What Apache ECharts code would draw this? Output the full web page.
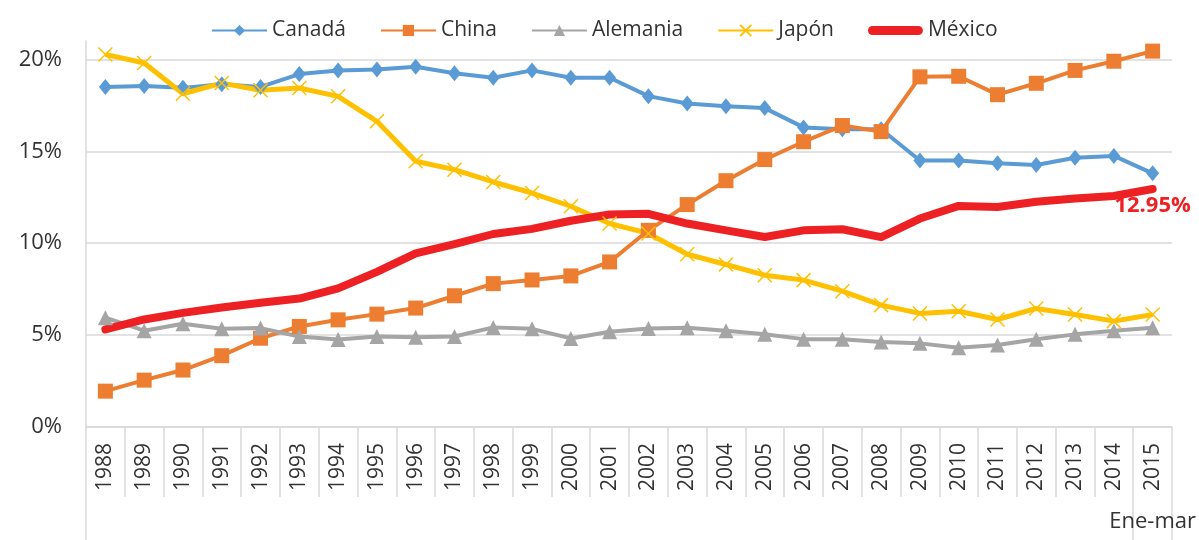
<!DOCTYPE html>
<html>
<head>
<meta charset="utf-8">
<script src="https://cdn.jsdelivr.net/npm/echarts@6/dist/echarts.min.js"></script>
<style>
  html, body { margin: 0; padding: 0; background: #fff; }
  #chart { width: 1199px; height: 540px; }
</style>
</head>
<body>
<div id="chart"></div>
<script>
  // años (2015 = enero-marzo)
  const years = ['1988', '1989', '1990', '1991', '1992', '1993', '1994', '1995', '1996', '1997',
    '1998', '1999', '2000', '2001', '2002', '2003', '2004', '2005', '2006', '2007',
    '2008', '2009', '2010', '2011', '2012', '2013', '2014', '2015'];
  const yTicks = [0, 5, 10, 15, 20];

  // participación (%) por país
  const canada = [18.5, 18.55, 18.45, 18.65, 18.5, 19.2, 19.4, 19.45, 19.6, 19.25,
    19.0, 19.4, 19.0, 19.0, 18.0, 17.6, 17.45, 17.35, 16.3, 16.2,
    16.2, 14.5, 14.5, 14.35, 14.25, 14.65, 14.75, 13.8];
  const china = [1.95, 2.55, 3.1, 3.88, 4.83, 5.47, 5.83, 6.14, 6.47, 7.14,
    7.8, 8.0, 8.22, 8.98, 10.7, 12.1, 13.4, 14.55, 15.52, 16.4,
    16.07, 19.05, 19.08, 18.08, 18.7, 19.4, 19.9, 20.45];
  const alemania = [5.95, 5.24, 5.62, 5.35, 5.38, 4.92, 4.76, 4.92, 4.88, 4.92,
    5.42, 5.34, 4.82, 5.18, 5.36, 5.4, 5.24, 5.05, 4.78, 4.78,
    4.62, 4.55, 4.31, 4.46, 4.77, 5.04, 5.24, 5.4];
  const japon = [20.27, 19.8, 18.13, 18.71, 18.32, 18.44, 17.99, 16.63, 14.46, 14.0,
    13.33, 12.73, 12.01, 11.07, 10.53, 9.4, 8.84, 8.26, 7.99, 7.39,
    6.63, 6.18, 6.3, 5.85, 6.45, 6.12, 5.76, 6.12];
  const mexico = [5.31, 5.85, 6.21, 6.5, 6.76, 6.99, 7.54, 8.44, 9.44, 9.95,
    10.5, 10.78, 11.22, 11.56, 11.6, 11.07, 10.7, 10.34, 10.7, 10.76,
    10.33, 11.34, 12.03, 11.97, 12.25, 12.43, 12.57, 12.95];

  // segundo nivel del eje: límites de grupo y etiqueta "Ene-mar"
  const groupEdges = [0, 27, 28];
  const groupLabelPos = [27.5];

  const font = 'Open Sans';
  const gridColor = '#d9d9d9';
  const textColor = '#333';

  const chart = echarts.init(document.getElementById('chart'));

  function lineSeries(name, data, color, width, symbol, size) {
    return {
      name: name,
      type: 'line',
      data: data,
      clip: false,
      symbol: symbol,
      symbolSize: size,
      lineStyle: { color: color, width: width },
      itemStyle: { color: color, borderColor: color, borderWidth: symbol.indexOf('path://') === 0 ? 1.5 : 0 },
      emphasis: { disabled: true }
    };
  }

  const last = years.length - 1;
  // México: línea gruesa sin marcadores, etiqueta solo en el último punto
  const mexSeries = lineSeries('México', mexico, '#ED2024', 8, 'circle', 1);
  mexSeries.lineStyle.cap = 'round';
  mexSeries.lineStyle.join = 'round';
  mexSeries.label = {
    show: true,
    position: 'bottom',
    distance: 5,
    color: '#ED2024',
    fontFamily: font,
    fontWeight: 'bold',
    fontSize: 22,
    formatter: function (p) { return p.dataIndex === last ? p.value.toFixed(2) + '%' : ''; }
  };

  chart.setOption({
    animation: false,
    textStyle: { fontFamily: font },
    legend: {
      top: 15,
      left: 206,
      itemWidth: 55,
      itemHeight: 14,
      itemGap: 34,
      textStyle: { fontSize: 21, color: textColor, fontFamily: font },
      data: ['Canadá', 'China', 'Alemania', 'Japón',
        { name: 'México', icon: 'path://M5,0L55,0A5,5,0,0,1,55,10L5,10A5,5,0,0,1,5,0Z' }]
    },
    grid: { left: 86, right: 25, top: 41, bottom: 113 },
    xAxis: [
      {
        type: 'category',
        data: years,
        boundaryGap: true,
        axisLine: { lineStyle: { color: gridColor, width: 1.5 } },
        axisTick: { show: true, interval: 0, length: 70, lineStyle: { color: gridColor, width: 1.5 } },
        axisLabel: { interval: 0, rotate: 90, margin: 16, fontSize: 21, color: textColor, fontFamily: font },
        splitLine: { show: false }
      },
      {
        type: 'value',
        position: 'bottom',
        offset: 70,
        min: 0,
        max: years.length,
        axisLine: { show: false },
        axisTick: { show: true, length: 43, customValues: groupEdges, lineStyle: { color: gridColor, width: 1.5 } },
        axisLabel: {
          customValues: groupLabelPos,
          margin: 14,
          fontSize: 22,
          color: textColor,
          fontFamily: font,
          formatter: function () { return 'Ene-mar'; }
        },
        splitLine: { show: false }
      }
    ],
    yAxis: {
      type: 'value',
      min: 0,
      max: 21,
      axisLine: { show: true, lineStyle: { color: gridColor, width: 1.5 } },
      axisTick: { show: false, customValues: yTicks },
      axisLabel: { customValues: yTicks, formatter: '{value}%', margin: 24, fontSize: 22, color: textColor, fontFamily: font },
      splitLine: { show: true, lineStyle: { color: gridColor, width: 1.5 } }
    },
    series: [
      lineSeries('Canadá', canada, '#5B9BD5', 4, 'diamond', [13, 16]),
      lineSeries('China', china, '#ED7D31', 4, 'rect', 15),
      lineSeries('Alemania', alemania, '#A5A5A5', 4, 'triangle', 15),
      lineSeries('Japón', japon, '#FFC000', 5, 'path://M0,0L10,10M0,10L10,0', 14),
      mexSeries
    ]
  });
</script>
</body>
</html>
